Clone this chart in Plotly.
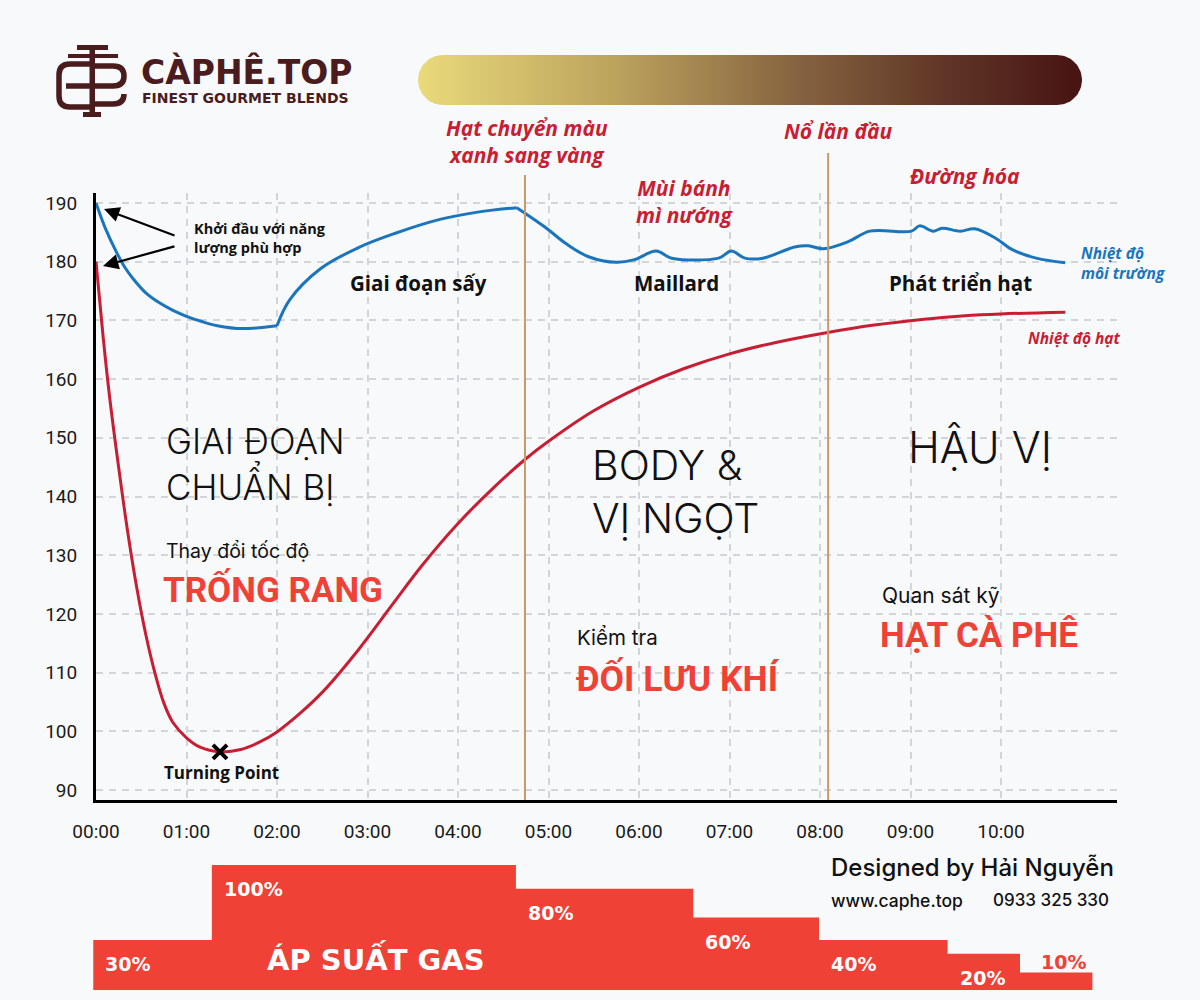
import numpy as np
import plotly.graph_objects as go

# ---------------- data ----------------
bean_time = [0, 0.08, 0.15, 0.25, 0.35, 0.45, 0.55, 0.65, 0.75, 0.85, 1.0, 1.15, 1.37,
             1.6, 1.8, 2.0, 2.25, 2.51, 2.9, 3.28, 3.6, 4.0, 4.4, 4.74, 5.0, 5.5, 6.0,
             6.5, 7.0, 7.5, 8.07, 8.6, 9.15, 9.6, 10.0, 10.71]
bean_temp = [180, 167, 157, 145, 134, 124.5, 116.5, 110, 104.8, 101.5, 98.9, 97.3, 96.5,
             96.9, 98.1, 99.9, 103.0, 106.8, 113.9, 121.7, 128.2, 135.4, 141.6, 146.3, 149.4, 154.6, 158.6,
             161.8, 164.3, 166.2, 167.9, 169.2, 170.2, 170.8, 171.1, 171.4]

env_time = [0, 0.1, 0.23, 0.32, 0.41, 0.55, 0.71, 0.85, 1.0, 1.17, 1.34, 1.62, 2.0,
            2.14, 2.48, 2.9, 3.3, 3.8, 4.2, 4.65,
            4.96, 5.2, 5.45, 5.75, 5.94, 6.19, 6.36, 6.88, 7.02, 7.17, 7.37, 7.72, 7.87,
            8.04, 8.31, 8.55, 9.01, 9.10, 9.25, 9.35, 9.55, 9.71, 9.94, 10.13, 10.39, 10.71]
env_temp = [190, 185.8, 181.5, 179.0, 177.1, 174.7, 172.9, 171.7, 170.7, 169.8, 169.1, 168.6, 169.1,
            173.5, 178.8, 182.4, 184.8, 187.2, 188.4, 189.2,
            185.9, 183, 180.8, 179.9, 180.3, 181.8, 180.6, 180.6, 181.8, 180.6, 180.6, 182.5, 182.7,
            182.2, 183.4, 185.2, 185.2, 186.1, 185.2, 185.7, 185.2, 185.6, 184.0, 182.0, 180.6, 179.8]
env_corner_time = [2.0, 4.65]     # corners of the env curve

x_tick_vals = [0, 1, 2, 3, 4, 5, 6, 7, 8, 9, 10]
x_tick_text = ["00:00", "01:00", "02:00", "03:00", "04:00", "05:00", "06:00", "07:00", "08:00", "09:00", "10:00"]
y_tick_vals = [90, 100, 110, 120, 130, 140, 150, 160, 170, 180, 190]

event_time = [4.74, 8.09]          # colour change, first crack
turning_point_time = [1.37]
turning_point_temp = [96.5]

gas_start = [-0.03, 1.28, 4.64, 6.60, 7.99, 9.41, 10.21]
gas_end_last = 11.01
gas_level = [40, 100, 81, 58, 40, 29, 14]     # bar height as drawn (100 = tallest)
gas_label = ["30%", "100%", "80%", "60%", "40%", "20%", "10%"]

# ---------------- style ----------------
BG = "#f8f9fb"
BLUE = "#1b75bc"
RED = "#c81e33"
BRIGHT = "#ef4136"
BROWN = "#c49a6c"
DARK = "#4a1c1e"
FONT_B = "Roboto"
FONT_O = "Open Sans"
FONT_L = "Inter"
FONT_W = "DejaVu Sans"
CLEAR = "rgba(0,0,0,0)"

fig = go.Figure()

# environment curve, drawn in smooth pieces that meet at its corners
cut_idx = [0] + [env_time.index(c) for c in env_corner_time] + [len(env_time) - 1]
for a, b in zip(cut_idx[:-1], cut_idx[1:]):
    fig.add_trace(go.Scatter(x=env_time[a:b + 1], y=env_temp[a:b + 1], mode="lines",
                             line=dict(color=BLUE, width=3, shape="spline", smoothing=1.0),
                             showlegend=False))
fig.add_trace(go.Scatter(x=bean_time, y=bean_temp, mode="lines",
                         line=dict(color=RED, width=3, shape="spline", smoothing=1.0),
                         showlegend=False))
fig.add_trace(go.Scatter(x=turning_point_time, y=turning_point_temp, mode="markers",
                         marker=dict(symbol="x-thin", size=14, line=dict(color="black", width=4)),
                         showlegend=False))

# brown event lines (minutes on x3, pixel rows on y2)
event_tops = [175, 153]
for t, top in zip(event_time, event_tops):
    fig.add_trace(go.Scatter(x=[t, t], y=[top, 800], mode="lines", xaxis="x3", yaxis="y2",
                             line=dict(color=BROWN, width=2), hoverinfo="skip", showlegend=False))

# gas pressure step area
gx = gas_start + [gas_end_last]
gy = gas_level + [gas_level[-1]]
fig.add_trace(go.Scatter(x=gx, y=gy, mode="lines", xaxis="x3", yaxis="y3",
                         line=dict(width=0, shape="hv", color=BRIGHT), fill="tozeroy",
                         fillcolor=BRIGHT, hoverinfo="skip", showlegend=False))

# gradient pill (pixel coordinates)
def pill(x0, x1, y0, y1):
    r = (y1 - y0) / 2
    cy = (y0 + y1) / 2
    a1 = np.linspace(-np.pi / 2, np.pi / 2, 40)
    right_x = (x1 - r) + r * np.cos(a1)
    right_y = cy + r * np.sin(a1)
    a2 = np.linspace(np.pi / 2, 3 * np.pi / 2, 40)
    left_x = (x0 + r) + r * np.cos(a2)
    left_y = cy + r * np.sin(a2)
    xs = np.concatenate([right_x, left_x, right_x[:1]])
    ys = np.concatenate([right_y, left_y, right_y[:1]])
    return xs, ys

px_, py_ = pill(418, 1082, 55, 105)
fig.add_trace(go.Scatter(x=px_, y=py_, mode="lines", xaxis="x2", yaxis="y2", fill="toself",
                         line=dict(width=0),
                         fillgradient=dict(type="horizontal",
                                           colorscale=[[0, "#e9da7a"], [0.3, "#bba25d"], [0.55, "#8a6842"],
                                                       [0.8, "#5e3526"], [1, "#481313"]]),
                         hoverinfo="skip", showlegend=False))

# ---------------- layout ----------------
fig.update_layout(
    width=1200, height=1000,
    margin=dict(l=0, r=0, t=0, b=0),
    paper_bgcolor=BG, plot_bgcolor=CLEAR,
    showlegend=False,
    xaxis=dict(domain=[96 / 1200, 1117 / 1200], range=[0, 1021 / 90.5],
               tickvals=x_tick_vals, ticktext=x_tick_text,
               showgrid=True, gridcolor="#d3d5d8", gridwidth=1.5, griddash="7px,6px",
               showline=True, linecolor="black", linewidth=3, zeroline=False,
               ticks="", ticklabelstandoff=12,
               tickfont=dict(family=FONT_B, size=19, color="#1a1a1a"), automargin=False),
    yaxis=dict(domain=[0.2, 0.807], range=[88.3, 191.7], tickvals=y_tick_vals,
               showgrid=True, gridcolor="#d3d5d8", gridwidth=1.5, griddash="7px,6px",
               showline=True, linecolor="black", linewidth=3, zeroline=False,
               ticks="", ticklabelstandoff=12,
               tickfont=dict(family=FONT_B, size=19, color="#1a1a1a"), automargin=False),
    xaxis2=dict(domain=[0, 1], range=[0, 1200], anchor="y2", visible=False, showgrid=False, zeroline=False),
    yaxis2=dict(domain=[0, 1], range=[1000, 0], anchor="x2", visible=False, showgrid=False, zeroline=False),
    xaxis3=dict(domain=[0, 1], range=[-96 / 90.5, 1104 / 90.5], anchor="y3", visible=False,
                showgrid=False, zeroline=False),
    yaxis3=dict(domain=[0.01, 0.135], range=[0, 100], anchor="x3", visible=False,
                showgrid=False, zeroline=False),
)

ann = []

def txt(x, y, text, size, color="#111111", family=FONT_B, weight=400, style="normal",
        xanchor="center", yanchor="middle", align="center"):
    ann.append(dict(x=x, y=y, xref="x2", yref="y2", text=text, showarrow=False,
                    font=dict(family=family, size=size, color=color, weight=weight, style=style),
                    xanchor=xanchor, yanchor=yanchor, align=align))

# logo
txt(139, 72, "CÀPHÊ.TOP", 33, DARK, FONT_W, 700, xanchor="left")
txt(140, 98, "FINEST GOURMET BLENDS", 14, DARK, FONT_W, 700, xanchor="left")

# top red event labels
txt(527, 141, "Hạt chuyển màu<br>xanh sang vàng", 21, RED, FONT_O, 700, "italic")
txt(684, 201, "Mùi bánh<br>mì nướng", 21, RED, FONT_O, 700, "italic")
txt(838, 131, "Nổ lần đầu", 21, RED, FONT_O, 700, "italic")
txt(965, 176, "Đường hóa", 21, RED, FONT_O, 700, "italic")

# phase labels
txt(418, 283, "Giai đoạn sấy", 20.5, "#111111", FONT_O, 700)
txt(676, 283, "Maillard", 20.5, "#111111", FONT_O, 700)
txt(960, 283, "Phát triển hạt", 20.5, "#111111", FONT_O, 700)

# series labels
txt(1079, 263, "Nhiệt độ<br>môi trường", 15.5, BLUE, FONT_O, 700, "italic", xanchor="left", align="left")
txt(1026, 338, "Nhiệt độ hạt", 15.5, RED, FONT_O, 700, "italic", xanchor="left", align="left")

# start annotation
txt(192, 238, "Khởi đầu với năng<br>lượng phù hợp", 14.5, "#111111", FONT_O, 700, xanchor="left", align="left")
for hx, hy, tx, ty in [(104, 209, 176, 236), (103, 266, 176, 246)]:
    ann.append(dict(x=hx, y=hy, ax=tx, ay=ty, xref="x2", yref="y2", axref="x2", ayref="y2",
                    text="", showarrow=True, arrowhead=2, arrowsize=1.4, arrowwidth=2.2,
                    arrowcolor="black", standoff=0, startstandoff=0))

txt(221, 772, "Turning Point", 17, "#111111", FONT_O, 700)

# big stage texts
txt(164, 464, "GIAI ĐOẠN<br>CHUẨN BỊ", 35, "#111111", FONT_L, 300, xanchor="left", align="left")
txt(164, 551, "Thay đổi tốc độ", 19.5, "#111111", FONT_L, 400, xanchor="left", align="left")
txt(161, 589, "TRỐNG RANG", 35, BRIGHT, FONT_B, 700, xanchor="left", align="left")

txt(590, 491, "BODY &<br>VỊ NGỌT", 41, "#111111", FONT_L, 300, xanchor="left", align="left")
txt(575, 637, "Kiểm tra", 20.5, "#111111", FONT_L, 400, xanchor="left", align="left")
txt(574, 678, "ĐỐI LƯU KHÍ", 35.5, BRIGHT, FONT_B, 700, xanchor="left", align="left")

txt(906, 447, "HẬU VỊ", 43, "#111111", FONT_L, 300, xanchor="left", align="left")
txt(880, 595, "Quan sát kỹ", 21, "#111111", FONT_L, 400, xanchor="left", align="left")
txt(878, 635, "HẠT CÀ PHÊ", 35, BRIGHT, FONT_B, 700, xanchor="left", align="left")

# credits
txt(829, 867, "Designed by Hải Nguyễn", 24, "#111111", FONT_L, 500, xanchor="left")
txt(829, 900, "www.caphe.top", 17.5, "#111111", FONT_L, 500, xanchor="left")
txt(991, 900, "0933 325 330", 17, "#111111", FONT_L, 500, xanchor="left")

# gas labels
for i, (s, lvl, lab) in enumerate(zip(gas_start, gas_level, gas_label)):
    if i == len(gas_start) - 1:
        ann.append(dict(x=s, y=lvl, xref="x3", yref="y3", text=lab, showarrow=False,
                        xanchor="left", yanchor="bottom", xshift=19, yshift=-2,
                        font=dict(family=FONT_W, size=19, color=BRIGHT, weight=700)))
    else:
        ann.append(dict(x=s, y=lvl, xref="x3", yref="y3", text=lab, showarrow=False,
                        xanchor="left", yanchor="top", xshift=10, yshift=-11,
                        font=dict(family=FONT_W, size=19, color="white", weight=700)))
txt(376, 958, "ÁP SUẤT GAS", 29, "white", FONT_W, 700)

fig.update_layout(annotations=ann)

# logo monogram shapes (pixel coordinates)
shapes = []
def rect(x0, y0, x1, y1):
    shapes.append(dict(type="rect", xref="x2", yref="y2", x0=x0, y0=y0, x1=x1, y1=y1,
                       fillcolor=DARK, line=dict(width=0)))
def path(d, w=5.5):
    shapes.append(dict(type="path", xref="x2", yref="y2", path=d,
                       line=dict(color=DARK, width=w), fillcolor=CLEAR))

rect(77, 45, 108, 50)
rect(68, 54, 118, 58)
rect(89.5, 45, 95, 117)
rect(83, 112, 101, 117)
path("M 90 64 L 70 64 Q 59 64 59 75 L 59 96 Q 59 107 70 107 L 90 107")
path("M 66 86 L 90 86")
path("M 95 66 L 113 66 Q 124 66 124 76 Q 124 86 113 86 L 95 86")
path("M 124 94 Q 124 104 113 104 L 95 104")
fig.update_layout(shapes=shapes)

fig.write_html("out.html")
